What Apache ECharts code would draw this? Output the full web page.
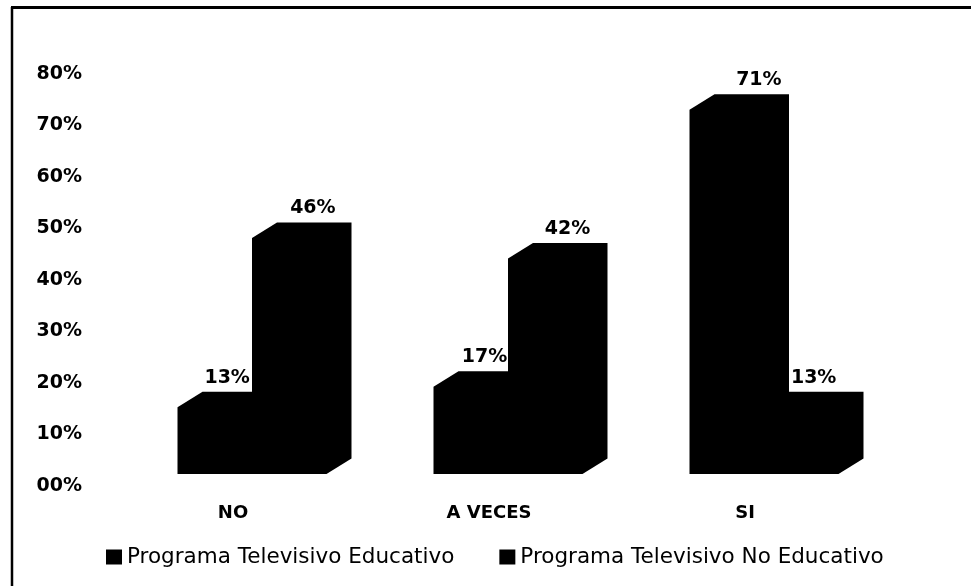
<!DOCTYPE html>
<html>
<head>
<meta charset="utf-8">
<script src="https://cdn.jsdelivr.net/npm/echarts@6/dist/echarts.min.js"></script>
<style>html,body{margin:0;padding:0;background:#fff;}#c{width:971px;height:586px;}</style>
</head>
<body>
<div id="c"></div>
<script>
const categories = ['NO', 'A VECES', 'SI'];
const educativo = [13, 17, 71];
const noEducativo = [46, 42, 13];
const seriesNames = ['Programa Televisivo Educativo', 'Programa Televisivo No Educativo'];
const yMin = 0, yMax = 80, yStep = 10;

const DX = 25, DY = 15.5;
const FONT = '"DejaVu Sans", Verdana, sans-serif';

function makeRender(side) {
  return function (params, api) {
    const idx = api.value(0);
    const v = api.value(1);
    const base = api.coord([idx, 0]);
    const top = api.coord([idx, v]);
    const band = api.size([1, 0])[0];
    const W = band * 0.291;
    const x0 = side === 0 ? base[0] - W : base[0];
    const x1 = x0 + W;
    const yb = base[1], yt = top[1];
    const pts = [[x0, yb], [x0, yt], [x0 + DX, yt - DY], [x1 + DX, yt - DY], [x1 + DX, yb - DY], [x1, yb]];
    // perspective-like shift of the label toward the back of taller bars
    const shift = 8 + 0.34 * v;
    return {
      type: 'group',
      children: [
        { type: 'polygon', shape: { points: pts }, style: { fill: '#000' } },
        { type: 'text', style: { text: v + '%', x: (x0 + x1) / 2 + shift, y: yt - DY - 14, align: 'center', verticalAlign: 'middle', font: 'bold 19px ' + FONT, fill: '#000' } }
      ]
    };
  };
}

const chart = echarts.init(document.getElementById('c'));
chart.setOption({
  backgroundColor: '#fff',
  animation: false,
  graphic: [
    { type: 'line', shape: { x1: 12, y1: 7, x2: 12, y2: 586 }, style: { stroke: '#000', lineWidth: 2.5 } },
    { type: 'line', shape: { x1: 11, y1: 7.5, x2: 971, y2: 7.5 }, style: { stroke: '#000', lineWidth: 3 } }
  ],
  grid: [
    { left: 90, top: 74, width: 10, height: 412 },
    { left: 124, top: 63.6, width: 768, height: 410.4 }
  ],
  xAxis: [
    { gridIndex: 0, type: 'value', show: false },
    {
      gridIndex: 1, type: 'category', data: categories,
      axisLine: { show: false }, axisTick: { show: false },
      axisLabel: { margin: 30, fontFamily: FONT, fontWeight: 'bold', fontSize: 18, color: '#000', padding: [0, 38, 0, 0] }
    }
  ],
  yAxis: [
    {
      gridIndex: 0, type: 'value', min: yMin, max: yMax, interval: yStep,
      axisLine: { show: false }, axisTick: { show: false }, splitLine: { show: false },
      axisLabel: { margin: 8, fontFamily: FONT, fontWeight: 'bold', fontSize: 19, color: '#000',
        formatter: v => (v === 0 ? '00' : v) + '%' }
    },
    { gridIndex: 1, type: 'value', min: yMin, max: yMax, show: false }
  ],
  legend: {
    left: 106, top: 546, padding: 0, icon: 'rect', itemWidth: 16, itemHeight: 15, itemGap: 45,
    textStyle: { fontFamily: FONT, fontSize: 21.5, color: '#000' },
    data: seriesNames
  },
  series: [
    { name: seriesNames[0], type: 'custom', xAxisIndex: 1, yAxisIndex: 1, itemStyle: { color: '#000' },
      renderItem: makeRender(0), encode: { x: 0, y: 1 },
      data: categories.map((c, i) => [i, educativo[i]]) },
    { name: seriesNames[1], type: 'custom', xAxisIndex: 1, yAxisIndex: 1, itemStyle: { color: '#000' },
      renderItem: makeRender(1), encode: { x: 0, y: 1 },
      data: categories.map((c, i) => [i, noEducativo[i]]) }
  ]
});
</script>
</body>
</html>
